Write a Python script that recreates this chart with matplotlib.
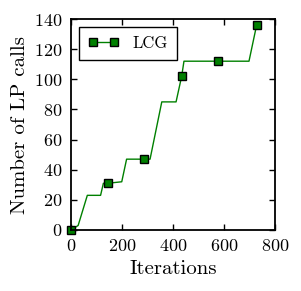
import matplotlib
matplotlib.use("Agg")
import matplotlib.pyplot as plt

plt.rcParams['font.family'] = ['cmr10', 'DejaVu Serif']
plt.rcParams['axes.formatter.use_mathtext'] = True
plt.rcParams['mathtext.fontset'] = 'cm'

# LCG curve vertices (iterations, LP calls)
iters = [0, 28, 64, 116, 127, 144, 199, 218, 287, 310, 356, 412, 434, 443, 578, 698, 728]
calls = [0, 3, 23, 23, 31, 31, 32, 47, 47, 47, 85, 85, 102, 112, 112, 112, 136]
marker_idx = [0, 5, 8, 12, 14, 16]

xticks = [0, 200, 400, 600, 800]
yticks = [0, 20, 40, 60, 80, 100, 120, 140]

fig = plt.figure(figsize=(3.01, 2.91), dpi=100)
ax = fig.add_axes([71/301, 1-230/291, 204/301, 211/291])

ax.plot(iters, calls, color='green', lw=1.0, marker='s', markersize=6,
        markerfacecolor='green', markeredgecolor='black', markeredgewidth=1.0,
        markevery=marker_idx, label='LCG', clip_on=False)

ax.set_xlim(0, 800)
ax.set_ylim(0, 140)
ax.set_xticks(xticks)
ax.set_yticks(yticks)
ax.tick_params(direction='in', top=True, right=True, length=4, width=1, labelsize=13)
ax.tick_params(axis='x', pad=6)
ax.tick_params(axis='y', pad=6)
for s in ax.spines.values():
    s.set_linewidth(1.3)
ax.set_xlabel('Iterations', fontsize=15, labelpad=4)
ax.set_ylabel('Number of LP calls', fontsize=15, labelpad=4)

leg = ax.legend(loc='upper left', numpoints=2, fontsize=12, fancybox=False,
                edgecolor='black', framealpha=1, handlelength=1.9, borderpad=0.55,
                borderaxespad=0.45)
leg.get_frame().set_linewidth(1.0)

fig.savefig('out.png', dpi=100)
